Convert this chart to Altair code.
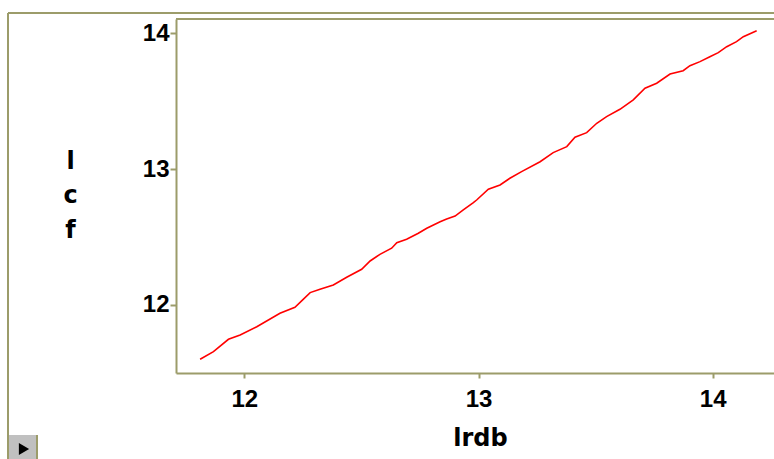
import altair as alt
import pandas as pd

# values
lrdb = [11.811, 11.868, 11.932, 11.982, 12.053, 12.152, 12.216, 12.249, 12.281, 12.323,
        12.380, 12.437, 12.501, 12.537, 12.579, 12.629, 12.651, 12.693, 12.743, 12.779,
        12.836, 12.864, 12.900, 12.935, 12.978, 12.992, 13.042, 13.092, 13.134, 13.184,
        13.263, 13.319, 13.377, 13.412, 13.462, 13.505, 13.547, 13.604, 13.661, 13.711,
        13.761, 13.818, 13.874, 13.903, 13.946, 13.988, 14.024, 14.060, 14.102, 14.131,
        14.188]
lcf = [11.600, 11.656, 11.747, 11.779, 11.840, 11.939, 11.983, 12.037, 12.091, 12.116,
       12.147, 12.204, 12.263, 12.324, 12.373, 12.418, 12.459, 12.484, 12.528, 12.565,
       12.613, 12.633, 12.655, 12.700, 12.753, 12.773, 12.852, 12.884, 12.933, 12.982,
       13.055, 13.122, 13.166, 13.235, 13.269, 13.338, 13.387, 13.441, 13.510, 13.596,
       13.633, 13.701, 13.725, 13.762, 13.792, 13.828, 13.858, 13.902, 13.939, 13.976,
       14.020]
x_ticks = [12, 13, 14]
y_ticks = [12, 13, 14]
x_title = "lrdb"
y_title = ["l", "c", "f"]

df = pd.DataFrame({"lrdb": lrdb, "lcf": lcf})

OLIVE = "#9c9c6a"
W, H = 598, 354
one = alt.Data(values=[{"k": 1}])

line = alt.Chart(df).mark_line(color="#ff0000", strokeWidth=1.6).encode(
    x=alt.X("lrdb:Q",
            scale=alt.Scale(domain=[11.708, 14.262], nice=False, zero=False),
            axis=alt.Axis(values=x_ticks, title=x_title, tickSize=5, labelPadding=9,
                          titleX=304, titleY=72, titleAlign="center",
                          titleBaseline="alphabetic", titleAngle=0)),
    y=alt.Y("lcf:Q",
            scale=alt.Scale(domain=[11.499, 14.106], nice=False, zero=False),
            axis=alt.Axis(values=y_ticks, title=y_title, tickSize=6, labelPadding=1,
                          titleAngle=0, titleX=-106, titleY=149, titleAlign="center",
                          titleBaseline="alphabetic", titleLineHeight=34.5)),
)

top_rule = alt.Chart(one).mark_rule(color=OLIVE, strokeWidth=2).encode(
    x=alt.value(0), x2=alt.value(W + 20), y=alt.value(0))

outer_v = alt.Chart(one).mark_rule(color=OLIVE, strokeWidth=2).encode(
    x=alt.value(-168), y=alt.value(-6), y2=alt.value(H + 100))
outer_h = alt.Chart(one).mark_rule(color=OLIVE, strokeWidth=2).encode(
    x=alt.value(-168), x2=alt.value(W + 20), y=alt.value(-6))

button = alt.Chart(one).mark_rect(color="#c0c0c0").encode(
    x=alt.value(-167), x2=alt.value(-139), y=alt.value(416), y2=alt.value(H + 100))
button_edge = alt.Chart(one).mark_rule(color=OLIVE, strokeWidth=2).encode(
    x=alt.value(-139), y=alt.value(416), y2=alt.value(H + 100))
arrow = alt.Chart(one).mark_point(shape="triangle-right", filled=True, color="black",
                                  opacity=1, size=140).encode(
    x=alt.value(-152), y=alt.value(430))

chart = alt.layer(outer_v, outer_h, button, button_edge, arrow, top_rule, line).properties(
    width=W, height=H,
    autosize=alt.AutoSizeParams(type="none"),
    padding={"left": 176, "top": 19, "right": 0, "bottom": 86},
    background="white",
).configure_view(strokeWidth=0).configure_axis(
    grid=False,
    domainColor=OLIVE, domainWidth=2,
    tickColor=OLIVE, tickWidth=2,
    labelFont="Liberation Sans", labelFontWeight="bold", labelFontSize=24,
    labelColor="black",
    titleFont="DejaVu Sans", titleFontWeight="bold", titleFontSize=24,
    titleColor="black",
)

chart.save("out.html", embed_options={"renderer": "svg", "actions": False})
